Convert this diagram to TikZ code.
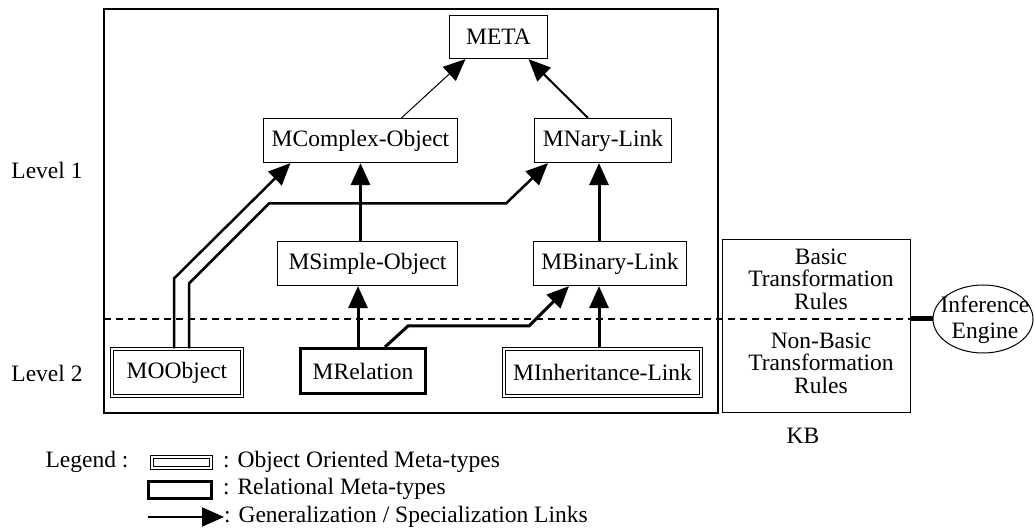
\documentclass[tikz,border=0pt]{standalone}
\usepackage{fontspec}
\setmainfont{Liberation Serif}
\usetikzlibrary{arrows.meta,shapes.geometric}
\begin{document}
\begin{tikzpicture}[x=1pt,y=-1pt,line join=miter,
  every node/.style={font=\fontsize{23.5}{22.5}\selectfont},
  box/.style={draw,line width=1.2pt,inner sep=0pt},
  oobox/.style={draw,double,double distance=2.5pt,line width=1pt,inner sep=0pt},
  relbox/.style={draw,line width=3pt,inner sep=0pt},
  gen/.style={-{Triangle[length=22pt,width=19pt]},line width=3pt}]
\useasboundingbox (0,0) rectangle (1034,529);
\draw[line width=1.3pt] (104,9) rectangle (718,413);
\draw[line width=1.2pt,dash pattern=on 7pt off 5pt] (104,319) -- (911,319);
\node (lvone) at (47,170) {Level 1};
\node (lvtwo) at (47,373) {Level 2};
\node[box,minimum width=98pt,minimum height=43pt] (meta) at (498.5,37) {META};
\node[box,minimum width=194pt,minimum height=44pt] (mcomplex) at (360.5,140.5) {MComplex-Object};
\node[box,minimum width=137pt,minimum height=44pt] (mnary) at (603,140.5) {MNary-Link};
\node[box,minimum width=180pt,minimum height=44pt] (msimple) at (367.5,263.5) {MSimple-Object};
\node[box,minimum width=153pt,minimum height=44pt] (mbinary) at (610,263.5) {MBinary-Link};
\node[oobox,minimum width=130pt,minimum height=47pt] (moobj) at (177,372.5) {MOObject};
\node[relbox,minimum width=125pt,minimum height=45pt] (mrel) at (363,371) {MRelation};
\node[oobox,minimum width=197pt,minimum height=47pt] (minh) at (602.5,372.5) {MInheritance-Link};
\draw[gen,line width=1pt] ([xshift=41pt]mcomplex.north) -- ([xshift=-33pt]meta.south);
\draw[gen,line width=2pt] ([xshift=-15pt]mnary.north) -- ([xshift=30pt]meta.south);
\draw[gen] ([xshift=-7pt]msimple.north) -- (mcomplex.south);
\draw[gen] ([xshift=-11pt]mbinary.north) -- ([xshift=-4pt]mnary.south);
\draw[gen] ([xshift=-5pt]mrel.north) -- ([xshift=-9.5pt]msimple.south);
\draw[gen] ([xshift=-3.5pt]minh.north) -- ([xshift=-11pt]mbinary.south);
\draw[gen] ([xshift=22pt]mrel.north) -- ++(23,-21) -- ++(121,0) -- ([xshift=-41pt]mbinary.south);
\draw[gen,line width=2.5pt] ([xshift=-3pt]moobj.north) -- ++(0,-70) -- ([xshift=-70pt]mcomplex.south);
\draw[gen,line width=2.5pt] ([xshift=12pt]moobj.north) -- ++(0,-65) -- ++(80,-80) -- ++(237,0) -- ([xshift=-55pt]mnary.south);
\node[box,minimum width=188pt,minimum height=173pt] (kb) at (816.5,326) {};
\node[align=center] (basic) at (821,279) {Basic\\Transformation\\Rules};
\node[align=center] (nonbasic) at (821,363) {Non-Basic\\Transformation\\Rules};
\node (kblabel) at (803,436) {KB};
\node[ellipse,draw,line width=1pt,minimum width=100pt,minimum height=68pt,inner sep=0pt] (engine) at (983,319) {};
\node[align=center,font=\fontsize{23.5}{26}\selectfont] (enginetext) at (985,320) {Inference\\Engine};
\draw[line width=5pt] (kb.east |- engine.west) -- (engine.west);
\node (legend) at (87,462) {Legend :};
\node[oobox,minimum width=59pt,minimum height=11pt] (legoo) at (181.5,462.5) {};
\node[relbox,minimum width=63pt,minimum height=17pt] (legrel) at (180,490) {};
\node[anchor=west,inner sep=0pt] (legootext) at (223,462) {: Object Oriented Meta-types};
\node[anchor=west,inner sep=0pt] (legreltext) at (223,489) {: Relational Meta-types};
\node[anchor=west,inner sep=0pt] (leggentext) at (224,517) {: Generalization / Specialization Links};
\coordinate (legstart) at (148,517);
\draw[gen,line width=2pt] (legstart) -- (leggentext.west);
\end{tikzpicture}
\end{document}
